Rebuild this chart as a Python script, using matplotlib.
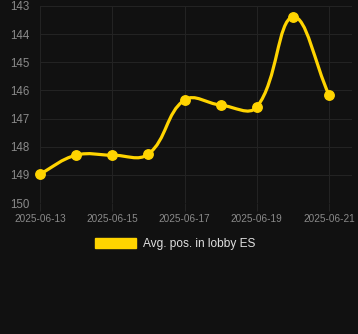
import numpy as np
import pandas as pd
import matplotlib
matplotlib.use("Agg")
import matplotlib.pyplot as plt
import matplotlib.dates as mdates
from matplotlib.path import Path
from matplotlib.patches import PathPatch, Patch

plt.rcParams["font.family"] = ["Liberation Sans", "DejaVu Sans"]

dates = pd.to_datetime(["2025-06-13", "2025-06-14", "2025-06-15", "2025-06-16",
                        "2025-06-17", "2025-06-18", "2025-06-19", "2025-06-20",
                        "2025-06-21"])
positions = [148.97, 148.3, 148.3, 148.26, 146.34, 146.52, 146.59, 143.39, 146.16]
x_ticks = pd.to_datetime(["2025-06-13", "2025-06-15", "2025-06-17", "2025-06-19", "2025-06-21"])
y_ticks = [143, 144, 145, 146, 147, 148, 149, 150]
series_label = "Avg. pos. in lobby ES"

BG = "#111111"
GRID = "#232323"
GOLD = "#ffd400"

W, H = 358, 334
fig = plt.figure(figsize=(W / 100, H / 100), dpi=100, facecolor=BG)
ax = fig.add_axes([40 / W, 1 - 203 / H, (352 - 40) / W, (203 - 6) / H], facecolor=BG)

xs = mdates.date2num(dates)
ys = np.array(positions, dtype=float)

x_lo = mdates.date2num(pd.Timestamp("2025-06-13"))
ax.set_xlim(x_lo, x_lo + 8 + 23 / 36.125)
ax.set_ylim(150, 143)

# smooth curve like chart.js (tension 0.4), distances measured in pixels
sx = 36.125   # px per day
sy = 28.14    # px per unit
t = 0.4
n = len(xs)
cp_prev = np.zeros((n, 2))
cp_next = np.zeros((n, 2))
for i in range(n):
    p0 = np.array([xs[max(i - 1, 0)], ys[max(i - 1, 0)]])
    p1 = np.array([xs[i], ys[i]])
    p2 = np.array([xs[min(i + 1, n - 1)], ys[min(i + 1, n - 1)]])
    d01 = np.hypot((p1[0] - p0[0]) * sx, (p1[1] - p0[1]) * sy)
    d12 = np.hypot((p2[0] - p1[0]) * sx, (p2[1] - p1[1]) * sy)
    tot = d01 + d12
    s01 = d01 / tot if tot else 0
    s12 = d12 / tot if tot else 0
    cp_prev[i] = p1 - t * s01 * (p2 - p0)
    cp_next[i] = p1 + t * s12 * (p2 - p0)

verts = [(xs[0], ys[0])]
codes = [Path.MOVETO]
for i in range(n - 1):
    verts += [tuple(cp_next[i]), tuple(cp_prev[i + 1]), (xs[i + 1], ys[i + 1])]
    codes += [Path.CURVE4] * 3
ax.add_patch(PathPatch(Path(verts, codes), facecolor="none", edgecolor=GOLD,
                       lw=2.3, capstyle="round", joinstyle="round", zorder=3))
ax.plot(xs, ys, "o", color=GOLD, ms=6.8, zorder=4, clip_on=False)

ax.set_xticks(mdates.date2num(x_ticks))
ax.set_xticklabels([d.strftime("%Y-%m-%d") for d in x_ticks])
ax.set_yticks(y_ticks)
ax.set_yticklabels([str(v) for v in y_ticks])
ax.grid(True, color=GRID, lw=0.8)
for s in ax.spines.values():
    s.set_visible(False)
ax.tick_params(axis="x", length=6, color=GRID, width=0.8, pad=2,
               labelsize=7.2, labelcolor="#8a8a8a")
ax.tick_params(axis="y", length=0, pad=7.5, labelsize=8.3, labelcolor="#8a8a8a")

fig.legend(handles=[Patch(facecolor=GOLD, edgecolor=GOLD)], labels=[series_label],
           loc="center", bbox_to_anchor=(175 / W, 1 - 244 / H), frameon=False,
           handlelength=3.5, handleheight=1.0, handletextpad=0.55,
           prop={"size": 8.6}, labelcolor="#e0e0e0")

fig.savefig("out.png", dpi=100, facecolor=BG)
